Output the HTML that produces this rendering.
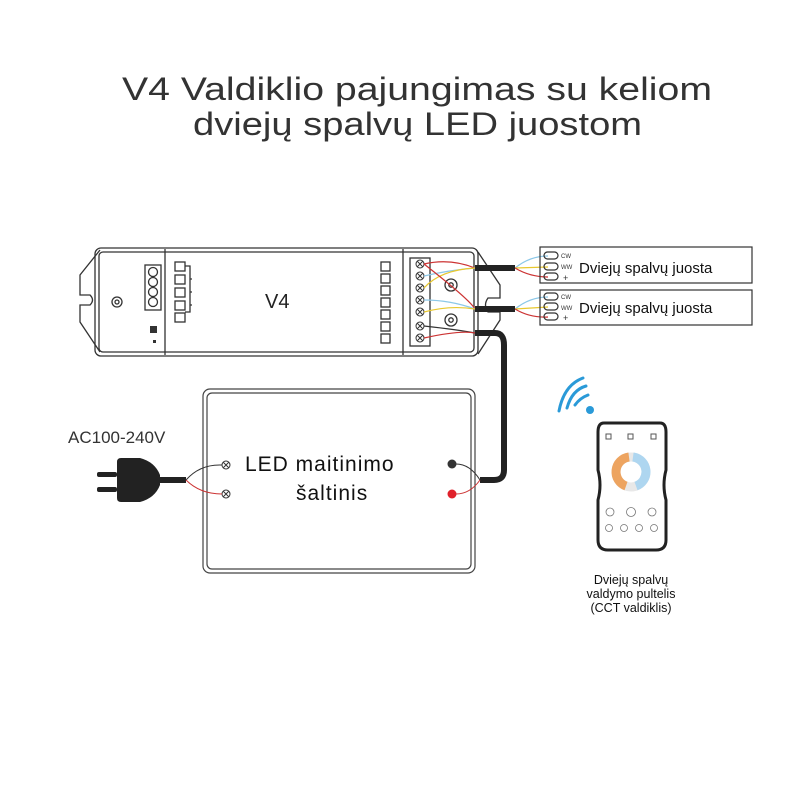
<!DOCTYPE html>
<html><head><meta charset="utf-8"><style>
html,body{margin:0;padding:0;background:#fff;}
svg{display:block;}
text{font-family:"Liberation Sans",sans-serif;}
</style></head><body>
<svg width="800" height="800" viewBox="0 0 800 800" xmlns="http://www.w3.org/2000/svg">
<rect width="800" height="800" fill="#fff"/>
<!-- Title -->
<text x="122" y="100" font-size="32" fill="#333" textLength="590" lengthAdjust="spacingAndGlyphs">V4 Valdiklio pajungimas su keliom</text>
<text x="193" y="135" font-size="32" fill="#333" textLength="449" lengthAdjust="spacingAndGlyphs">dviejų spalvų LED juostom</text>

<!-- Controller -->
<g fill="none" stroke="#333" stroke-width="1.3">
<path d="M100 250 L80 275 L80 295 L90 295 Q95 300 90 305 L80 305 L80 322 L100 352"/>
<path d="M478 252 L500 285 L500 298 L488 298 Q483 305 488 312 L500 312 L500 320 L478 354"/>
<rect x="95" y="248" width="383" height="108" rx="6"/>
<rect x="99" y="252" width="375" height="100" rx="4"/>
<line x1="165" y1="249" x2="165" y2="355"/>
<line x1="403" y1="249" x2="403" y2="355"/>
<rect x="410" y="258" width="20" height="88"/>
<rect x="145" y="265" width="16" height="45"/>
<circle cx="153" cy="272" r="4.5"/><circle cx="153" cy="282" r="4.5"/><circle cx="153" cy="292" r="4.5"/><circle cx="153" cy="302" r="4.5"/>
<circle cx="117" cy="302" r="5"/><circle cx="117" cy="302" r="2"/>
<circle cx="451" cy="285" r="6"/><circle cx="451" cy="285" r="2.2"/>
<circle cx="451" cy="320" r="6"/><circle cx="451" cy="320" r="2.2"/>
<rect x="175" y="262" width="10" height="9"/><rect x="175" y="275" width="10" height="9"/><rect x="175" y="288" width="10" height="9"/><rect x="175" y="301" width="10" height="9"/><rect x="175" y="313" width="10" height="9"/>
<rect x="381" y="262" width="9" height="9"/><rect x="381" y="274" width="9" height="9"/><rect x="381" y="286" width="9" height="9"/><rect x="381" y="298" width="9" height="9"/><rect x="381" y="310" width="9" height="9"/><rect x="381" y="322" width="9" height="9"/><rect x="381" y="334" width="9" height="9"/>
<path d="M185 266 h5 v46 h-5 M190 279 h2 M190 292 h2 M190 305 h2"/>
</g>
<rect x="150" y="326" width="7" height="7" fill="#333"/>
<rect x="153" y="340" width="3" height="3" fill="#333"/>
<text x="265" y="308" font-size="20" fill="#222">V4</text>
<g fill="none" stroke="#333" stroke-width="1">
<circle cx="420" cy="264" r="4"/><circle cx="420" cy="276" r="4"/><circle cx="420" cy="288" r="4"/><circle cx="420" cy="300" r="4"/><circle cx="420" cy="312" r="4"/><circle cx="420" cy="326" r="4"/><circle cx="420" cy="338" r="4"/>
<path d="M417 261l6 6M423 261l-6 6M417 273l6 6M423 273l-6 6M417 285l6 6M423 285l-6 6M417 297l6 6M423 297l-6 6M417 309l6 6M423 309l-6 6M417 323l6 6M423 323l-6 6M417 335l6 6M423 335l-6 6"/>
</g>
<!-- wires controller -> strips -->
<g fill="none" stroke-width="1.2">
<path d="M424 264 Q450 258 475 268" stroke="#c33"/>
<path d="M424 276 Q450 270 475 268" stroke="#8cc8e8"/>
<path d="M424 288 Q440 270 475 268" stroke="#e8c830"/>
<path d="M424 264 Q470 300 475 309" stroke="#c33"/>
<path d="M424 300 Q450 300 475 309" stroke="#8cc8e8"/>
<path d="M424 312 Q450 305 475 309" stroke="#e8c830"/>
<path d="M424 326 Q460 330 475 333" stroke="#333"/>
<path d="M424 338 Q460 330 475 333" stroke="#c33"/>
<path d="M515 268 Q530 256 548 256" stroke="#8cc8e8"/>
<path d="M515 268 L548 267" stroke="#e8c830"/>
<path d="M515 268 Q530 277 548 277" stroke="#c33"/>
<path d="M515 309 Q530 297 548 297" stroke="#8cc8e8"/>
<path d="M515 309 L548 307" stroke="#e8c830"/>
<path d="M515 309 Q530 318 548 317" stroke="#c33"/>
</g>
<rect x="475" y="265" width="40" height="6" fill="#222"/>
<rect x="475" y="306" width="40" height="6" fill="#222"/>
<path d="M475 333 L495 333 Q504 333 504 345 L504 470 Q504 480 494 480 L480 480" fill="none" stroke="#222" stroke-width="6"/>
<!-- strips -->
<g fill="none" stroke="#333" stroke-width="1.2">
<rect x="540" y="247" width="212" height="36"/>
<rect x="540" y="290" width="212" height="35"/>
<rect x="544" y="252" width="14" height="7" rx="3.5"/><rect x="544" y="263" width="14" height="7" rx="3.5"/><rect x="544" y="273" width="14" height="7" rx="3.5"/>
<rect x="544" y="293" width="14" height="7" rx="3.5"/><rect x="544" y="303" width="14" height="7" rx="3.5"/><rect x="544" y="313" width="14" height="7" rx="3.5"/>
</g>
<g font-size="6" fill="#333"><text x="561" y="258">CW</text><text x="561" y="269">WW</text><text x="563" y="281" font-size="9">+</text>
<text x="561" y="299">CW</text><text x="561" y="310">WW</text><text x="563" y="321" font-size="9">+</text></g>
<text x="579" y="273" font-size="15" fill="#111">Dviejų spalvų juosta</text>
<text x="579" y="313" font-size="15" fill="#111">Dviejų spalvų juosta</text>

<!-- Power supply -->
<rect x="203" y="389" width="272" height="184" rx="7" fill="none" stroke="#444" stroke-width="1.2"/>
<rect x="207" y="393" width="264" height="176" rx="5" fill="none" stroke="#444" stroke-width="1.2"/>
<text x="245" y="471" font-size="21" fill="#111" letter-spacing="1">LED maitinimo</text>
<text x="296" y="500" font-size="21" fill="#111" letter-spacing="1">šaltinis</text>
<g fill="none" stroke="#333" stroke-width="1"><circle cx="226" cy="465" r="4"/><circle cx="226" cy="494" r="4"/>
<path d="M223 462l6 6M229 462l-6 6M223 491l6 6M229 491l-6 6"/></g>
<circle cx="452" cy="464" r="4.5" fill="#333"/>
<circle cx="452" cy="494" r="4.5" fill="#e0202a"/>
<path d="M456 464 Q470 464 480 480" fill="none" stroke="#333"/>
<path d="M456 494 Q470 494 480 480" fill="none" stroke="#c33"/>
<text x="68" y="443" font-size="17" fill="#333">AC100-240V</text>
<!-- plug -->
<rect x="97" y="472" width="20" height="5" rx="2" fill="#222"/>
<rect x="97" y="487" width="20" height="5" rx="2" fill="#222"/>
<path d="M117 462 Q117 458 121 458 L140 458 Q155 462 160 475 L160 485 Q155 498 140 502 L121 502 Q117 502 117 498 Z" fill="#222"/>
<rect x="158" y="477" width="28" height="6" fill="#222"/>
<path d="M186 480 Q200 464 222 465" fill="none" stroke="#333"/>
<path d="M186 480 Q200 494 222 494" fill="none" stroke="#c33"/>

<!-- wifi -->
<g fill="none" stroke="#2a9ad8" stroke-width="3" stroke-linecap="round">
<path d="M575 405 Q580 398 588 395"/>
<path d="M567 408 Q572 390 586 386"/>
<path d="M559 411 Q564 385 583 378"/>
</g>
<circle cx="590" cy="410" r="4" fill="#2a9ad8"/>
<!-- remote -->
<path d="M604 423 L660 423 Q666 423 666 432 L666 470 Q662 485 666 500 L666 540 Q666 550 656 550 L608 550 Q598 550 598 540 L598 500 Q602 485 598 470 L598 432 Q598 423 604 423 Z" fill="#fff" stroke="#222" stroke-width="3"/>
<g fill="none" stroke="#555" stroke-width="1"><rect x="606" y="434" width="5" height="5"/><rect x="628" y="434" width="5" height="5"/><rect x="651" y="434" width="5" height="5"/></g>
<circle cx="631" cy="472" r="15" fill="none" stroke="#e8e8e8" stroke-width="9"/>
<path d="M626 486 A15 15 0 0 1 629 457" fill="none" stroke="#eda460" stroke-width="9"/>
<path d="M633 457 A15 15 0 0 1 636 486" fill="none" stroke="#aed6f0" stroke-width="9"/>
<g fill="none" stroke="#777" stroke-width="0.8"><circle cx="610" cy="512" r="4"/><circle cx="631" cy="512" r="4.5"/><circle cx="652" cy="512" r="4"/>
<circle cx="609" cy="528" r="3.5"/><circle cx="624" cy="528" r="3.5"/><circle cx="639" cy="528" r="3.5"/><circle cx="654" cy="528" r="3.5"/></g>
<text x="631" y="584" font-size="12.5" fill="#111" text-anchor="middle">Dviejų spalvų</text>
<text x="631" y="598" font-size="12.5" fill="#111" text-anchor="middle">valdymo pultelis</text>
<text x="631" y="612" font-size="12.5" fill="#111" text-anchor="middle">(CCT valdiklis)</text>
</svg>
</body></html>
